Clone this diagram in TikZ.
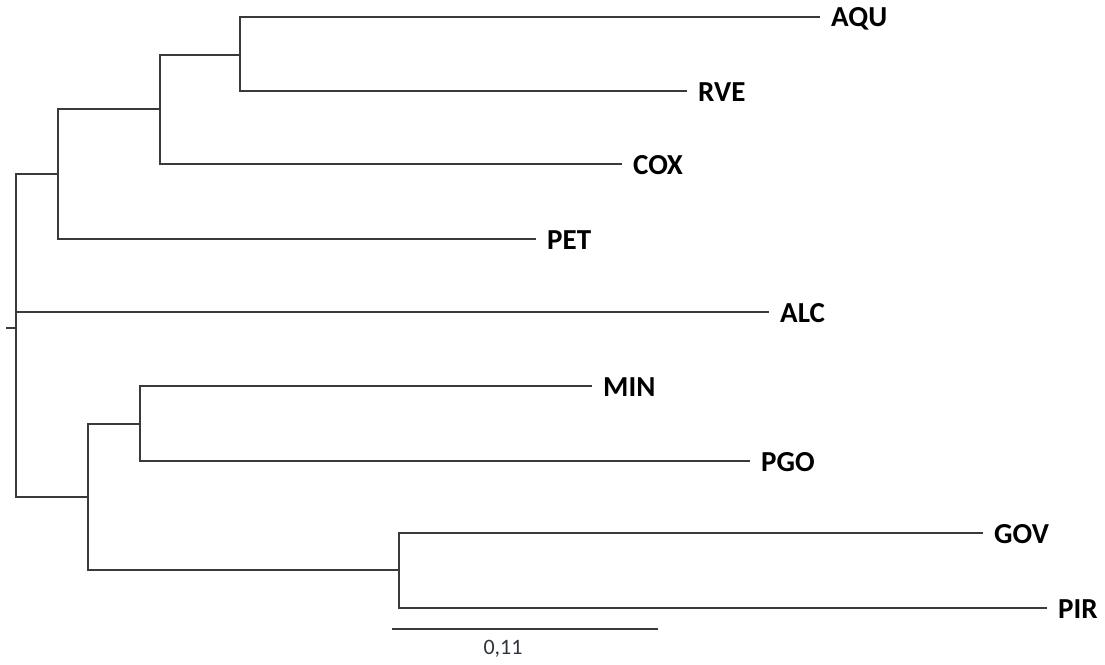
\documentclass[tikz,border=0pt]{standalone}
\usepackage{fontspec}
\setmainfont{Carlito}
\definecolor{branch}{HTML}{3A3A3A}
\definecolor{scaletext}{HTML}{2E3340}
\begin{document}
\begin{tikzpicture}[x=1pt,y=-1pt,
  edge/.style={draw=branch,line width=1.6pt,line join=miter},
  taxon/.style={anchor=west,inner sep=0pt,xshift=11pt,yshift=-1.5pt,
    font=\fontsize{29}{29}\selectfont\bfseries,text=black},
  scalelabel/.style={inner sep=0pt,font=\fontsize{22}{22}\selectfont,text=scaletext}]
\useasboundingbox (0,0) rectangle (1105,664);
% internal nodes: x of the vertical bar, y of the stem
\coordinate (tick) at (6,328);
\coordinate (root) at (16,328);
\coordinate (ntop) at (58,174);
\coordinate (nmid) at (160,109);
\coordinate (naqu) at (240,55);
\coordinate (nbot) at (88,497);
\coordinate (nmin) at (140,424);
\coordinate (ngov) at (399,570);
% tips
\coordinate (AQU) at (820,17);
\coordinate (RVE) at (687,91);
\coordinate (COX) at (622,164);
\coordinate (PET) at (536,239);
\coordinate (ALC) at (769,312);
\coordinate (MIN) at (592,386);
\coordinate (PGO) at (750,461);
\coordinate (GOV) at (983,533);
\coordinate (PIR) at (1047,608);
% branches
\draw[edge] (tick) -- (root);
\draw[edge] (root) |- (ntop);
\draw[edge] (root) |- (ALC);
\draw[edge] (root) |- (nbot);
\draw[edge] (ntop) |- (nmid);
\draw[edge] (ntop) |- (PET);
\draw[edge] (nmid) |- (naqu);
\draw[edge] (nmid) |- (COX);
\draw[edge] (naqu) |- (AQU);
\draw[edge] (naqu) |- (RVE);
\draw[edge] (nbot) |- (nmin);
\draw[edge] (nbot) |- (ngov);
\draw[edge] (nmin) |- (MIN);
\draw[edge] (nmin) |- (PGO);
\draw[edge] (ngov) |- (GOV);
\draw[edge] (ngov) |- (PIR);
% tip labels
\foreach \t in {AQU,RVE,COX,PET,ALC,MIN,PGO,GOV,PIR}
  \node[taxon] (lab\t) at (\t) {\t};
% scale bar
\coordinate (sbl) at (392,629);
\coordinate (sbr) at (658,629);
\draw[edge] (sbl) -- (sbr);
\node[scalelabel] (sblab) at (503,649) {0,11};
\end{tikzpicture}
\end{document}
